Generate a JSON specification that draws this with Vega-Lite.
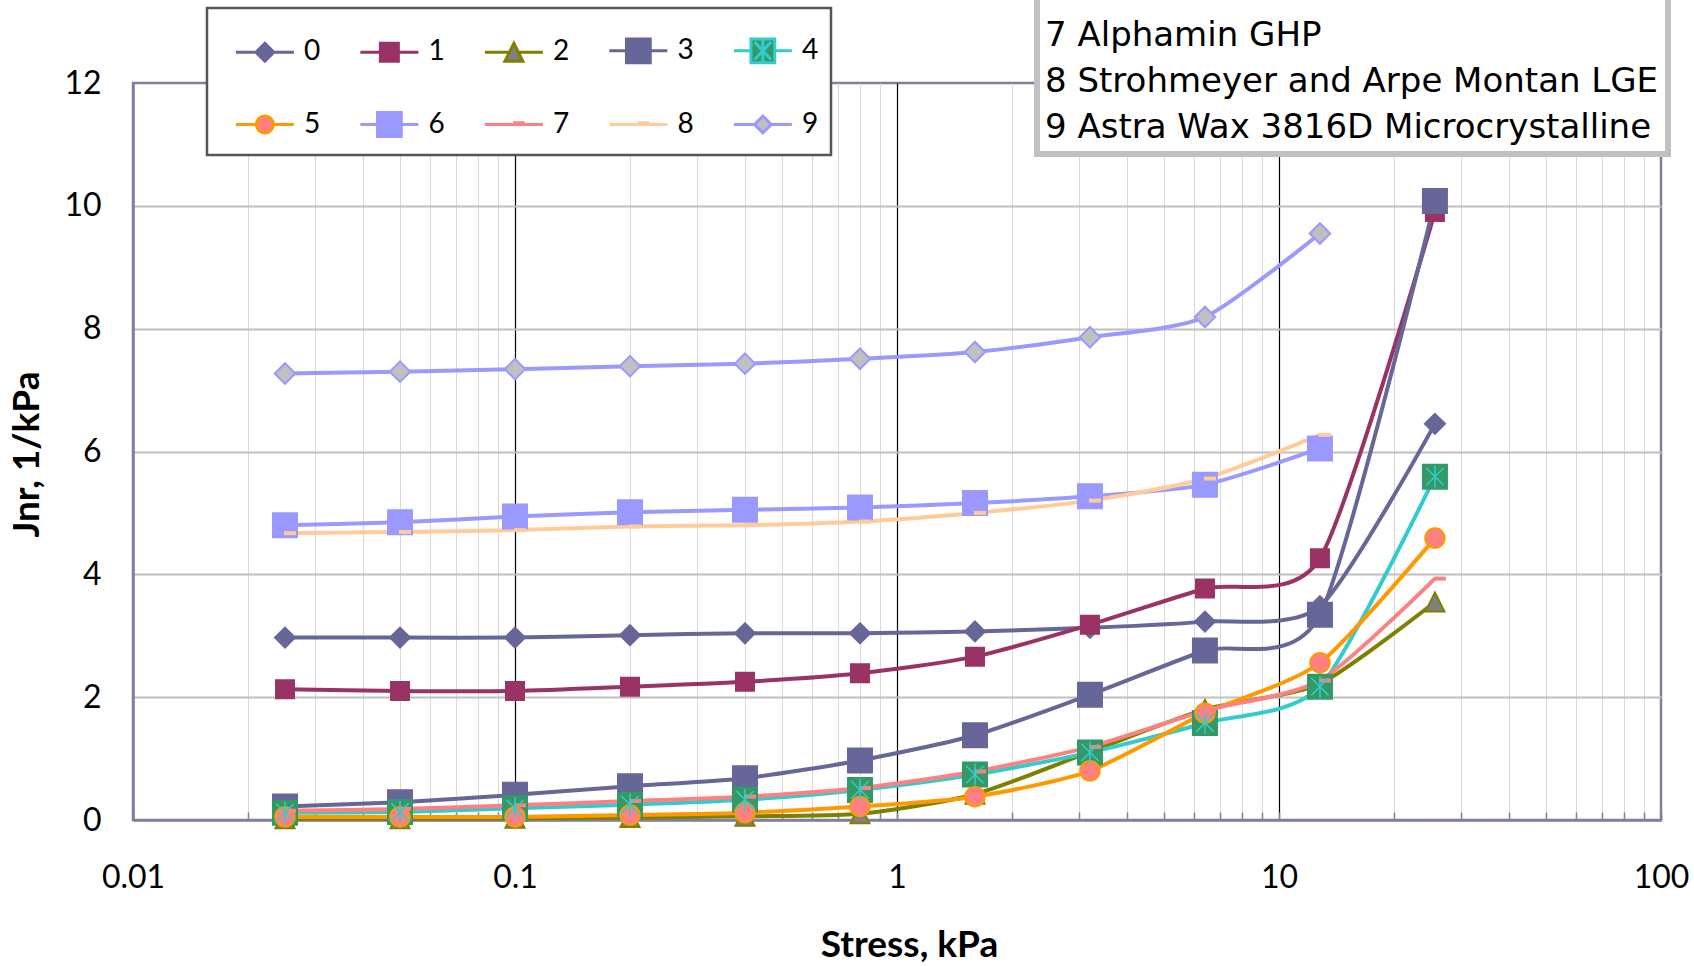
{
  "$schema": "https://vega.github.io/schema/vega-lite/v6.json",
  "width": 1528,
  "height": 737,
  "autosize": {"type": "none"},
  "padding": {"left": 133, "top": 83, "right": 33, "bottom": 146},
  "background": "white",
  "config": {"view": {"stroke": "#7F7F9F", "strokeWidth": 2.5}, "font": "Lato"},
  "datasets": {
    "jnr": [
      {"series": "0", "stress": 0.025, "jnr": 2.97}, {"series": "0", "stress": 0.05, "jnr": 2.97}, {"series": "0", "stress": 0.1, "jnr": 2.97}, {"series": "0", "stress": 0.2, "jnr": 3.01}, {"series": "0", "stress": 0.4, "jnr": 3.04}, {"series": "0", "stress": 0.8, "jnr": 3.04}, {"series": "0", "stress": 1.6, "jnr": 3.07}, {"series": "0", "stress": 3.2, "jnr": 3.13}, {"series": "0", "stress": 6.4, "jnr": 3.23}, {"series": "0", "stress": 12.8, "jnr": 3.48}, {"series": "0", "stress": 25.6, "jnr": 6.45},
      {"series": "1", "stress": 0.025, "jnr": 2.13}, {"series": "1", "stress": 0.05, "jnr": 2.10}, {"series": "1", "stress": 0.1, "jnr": 2.10}, {"series": "1", "stress": 0.2, "jnr": 2.17}, {"series": "1", "stress": 0.4, "jnr": 2.25}, {"series": "1", "stress": 0.8, "jnr": 2.39}, {"series": "1", "stress": 1.6, "jnr": 2.66}, {"series": "1", "stress": 3.2, "jnr": 3.18}, {"series": "1", "stress": 6.4, "jnr": 3.77}, {"series": "1", "stress": 12.8, "jnr": 4.26}, {"series": "1", "stress": 25.6, "jnr": 9.90},
      {"series": "2", "stress": 0.025, "jnr": 0.02}, {"series": "2", "stress": 0.05, "jnr": 0.02}, {"series": "2", "stress": 0.1, "jnr": 0.03}, {"series": "2", "stress": 0.2, "jnr": 0.04}, {"series": "2", "stress": 0.4, "jnr": 0.06}, {"series": "2", "stress": 0.8, "jnr": 0.10}, {"series": "2", "stress": 1.6, "jnr": 0.42}, {"series": "2", "stress": 3.2, "jnr": 1.11}, {"series": "2", "stress": 6.4, "jnr": 1.80}, {"series": "2", "stress": 12.8, "jnr": 2.22}, {"series": "2", "stress": 25.6, "jnr": 3.55},
      {"series": "3", "stress": 0.025, "jnr": 0.22}, {"series": "3", "stress": 0.05, "jnr": 0.29}, {"series": "3", "stress": 0.1, "jnr": 0.41}, {"series": "3", "stress": 0.2, "jnr": 0.55}, {"series": "3", "stress": 0.4, "jnr": 0.68}, {"series": "3", "stress": 0.8, "jnr": 0.97}, {"series": "3", "stress": 1.6, "jnr": 1.38}, {"series": "3", "stress": 3.2, "jnr": 2.04}, {"series": "3", "stress": 6.4, "jnr": 2.76}, {"series": "3", "stress": 12.8, "jnr": 3.34}, {"series": "3", "stress": 25.6, "jnr": 10.08},
      {"series": "4", "stress": 0.025, "jnr": 0.12}, {"series": "4", "stress": 0.05, "jnr": 0.13}, {"series": "4", "stress": 0.1, "jnr": 0.19}, {"series": "4", "stress": 0.2, "jnr": 0.25}, {"series": "4", "stress": 0.4, "jnr": 0.33}, {"series": "4", "stress": 0.8, "jnr": 0.49}, {"series": "4", "stress": 1.6, "jnr": 0.74}, {"series": "4", "stress": 3.2, "jnr": 1.10}, {"series": "4", "stress": 6.4, "jnr": 1.58}, {"series": "4", "stress": 12.8, "jnr": 2.17}, {"series": "4", "stress": 25.6, "jnr": 5.59},
      {"series": "5", "stress": 0.025, "jnr": 0.05}, {"series": "5", "stress": 0.05, "jnr": 0.05}, {"series": "5", "stress": 0.1, "jnr": 0.05}, {"series": "5", "stress": 0.2, "jnr": 0.08}, {"series": "5", "stress": 0.4, "jnr": 0.12}, {"series": "5", "stress": 0.8, "jnr": 0.22}, {"series": "5", "stress": 1.6, "jnr": 0.38}, {"series": "5", "stress": 3.2, "jnr": 0.80}, {"series": "5", "stress": 6.4, "jnr": 1.74}, {"series": "5", "stress": 12.8, "jnr": 2.56}, {"series": "5", "stress": 25.6, "jnr": 4.59},
      {"series": "6", "stress": 0.025, "jnr": 4.80}, {"series": "6", "stress": 0.05, "jnr": 4.85}, {"series": "6", "stress": 0.1, "jnr": 4.94}, {"series": "6", "stress": 0.2, "jnr": 5.01}, {"series": "6", "stress": 0.4, "jnr": 5.05}, {"series": "6", "stress": 0.8, "jnr": 5.09}, {"series": "6", "stress": 1.6, "jnr": 5.16}, {"series": "6", "stress": 3.2, "jnr": 5.27}, {"series": "6", "stress": 6.4, "jnr": 5.46}, {"series": "6", "stress": 12.8, "jnr": 6.05},
      {"series": "7", "stress": 0.025, "jnr": 0.15}, {"series": "7", "stress": 0.05, "jnr": 0.18}, {"series": "7", "stress": 0.1, "jnr": 0.24}, {"series": "7", "stress": 0.2, "jnr": 0.31}, {"series": "7", "stress": 0.4, "jnr": 0.38}, {"series": "7", "stress": 0.8, "jnr": 0.52}, {"series": "7", "stress": 1.6, "jnr": 0.79}, {"series": "7", "stress": 3.2, "jnr": 1.19}, {"series": "7", "stress": 6.4, "jnr": 1.78}, {"series": "7", "stress": 12.8, "jnr": 2.27}, {"series": "7", "stress": 25.6, "jnr": 3.93},
      {"series": "8", "stress": 0.025, "jnr": 4.67}, {"series": "8", "stress": 0.05, "jnr": 4.69}, {"series": "8", "stress": 0.1, "jnr": 4.72}, {"series": "8", "stress": 0.2, "jnr": 4.78}, {"series": "8", "stress": 0.4, "jnr": 4.80}, {"series": "8", "stress": 0.8, "jnr": 4.86}, {"series": "8", "stress": 1.6, "jnr": 5.00}, {"series": "8", "stress": 3.2, "jnr": 5.20}, {"series": "8", "stress": 6.4, "jnr": 5.56}, {"series": "8", "stress": 12.8, "jnr": 6.27},
      {"series": "9", "stress": 0.025, "jnr": 7.27}, {"series": "9", "stress": 0.05, "jnr": 7.30}, {"series": "9", "stress": 0.1, "jnr": 7.34}, {"series": "9", "stress": 0.2, "jnr": 7.39}, {"series": "9", "stress": 0.4, "jnr": 7.43}, {"series": "9", "stress": 0.8, "jnr": 7.51}, {"series": "9", "stress": 1.6, "jnr": 7.62}, {"series": "9", "stress": 3.2, "jnr": 7.86}, {"series": "9", "stress": 6.4, "jnr": 8.19}, {"series": "9", "stress": 12.8, "jnr": 9.55}
    ],
    "notes": [
      {"note": "7 Alphamin GHP"},
      {"note": "8 Strohmeyer and Arpe Montan LGE"},
      {"note": "9 Astra Wax 3816D Microcrystalline"}
    ]
  },
  "data": {"name": "jnr"},
  "layer": [
    {
      "mark": {"type": "line", "interpolate": "cardinal", "tension": 0.3, "strokeWidth": 4, "strokeJoin": "round"},
      "encoding": {
        "x": {"field": "stress", "type": "quantitative", "scale": {"type": "log", "domain": [0.01, 100], "nice": false},
          "axis": {
            "title": "Stress, kPa",
            "values": [0.01,0.02,0.03,0.04,0.05,0.06,0.07,0.08,0.09,0.1,0.2,0.3,0.4,0.5,0.6,0.7,0.8,0.9,1,2,3,4,5,6,7,8,9,10,20,30,40,50,60,70,80,90,100],
            "labelExpr": "datum.value == 0.01 ? '0.01' : datum.value == 0.1 ? '0.1' : datum.value == 1 ? '1' : datum.value == 10 ? '10' : datum.value == 100 ? '100' : ''",
            "labelFont": "Lato", "labelFontSize": 32, "labelColor": "#000000", "labelPadding": 50,
            "labelOverlap": false, "labelFlush": false,
            "ticks": true, "tickSize": -8, "tickColor": "#7F7F9F", "tickWidth": 1.5,
            "domainColor": "#7F7F9F", "domainWidth": 2.5,
            "grid": true,
            "gridColor": {"condition": {"test": "datum.value == 0.1 || datum.value == 1 || datum.value == 10", "value": "#000000"}, "value": "#D9D9D9"},
            "gridWidth": {"condition": {"test": "datum.value == 0.1 || datum.value == 1 || datum.value == 10", "value": 1.2}, "value": 1},
            "gridOpacity": {"condition": {"test": "datum.value == 0.01 || datum.value == 100", "value": 0}, "value": 1},
            "titleFont": "Lato", "titleFontSize": 37, "titleFontWeight": "bold", "titleColor": "#000000",
            "titleX": 776, "titleY": 136, "titleBaseline": "alphabetic", "titleAlign": "center"
          }
        },
        "y": {"field": "jnr", "type": "quantitative", "scale": {"domain": [0, 12], "nice": false},
          "axis": {
            "title": "Jnr, 1/kPa",
            "values": [0, 2, 4, 6, 8, 10, 12],
            "format": "d",
            "labelFont": "Lato", "labelFontSize": 32, "labelColor": "#000000", "labelPadding": 32,
            "ticks": false,
            "domainColor": "#7F7F9F", "domainWidth": 2.5,
            "grid": true, "gridColor": "#BFBFBF", "gridWidth": 2,
            "gridOpacity": {"condition": {"test": "datum.value == 0 || datum.value == 12", "value": 0}, "value": 1},
            "titleFont": "Lato", "titleFontSize": 37, "titleFontWeight": "bold", "titleColor": "#000000",
            "titleAngle": 270, "titleX": -95, "titleY": 371, "titleBaseline": "alphabetic", "titleAlign": "center"
          }
        },
        "color": {"field": "series", "type": "nominal",
          "scale": {"domain": ["0","1","2","3","4","5","6","7","8","9"], "range": ["#666699","#993366","#808000","#666699","#33CCCC","#FF9900","#9999FF","#FF8080","#FFCC99","#9999FF"]},
          "legend": null}
      }
    },
    {
      "mark": {"type": "point", "filled": true, "strokeWidth": 2, "opacity": 1},
      "encoding": {
        "x": {"field": "stress", "type": "quantitative"},
        "y": {"field": "jnr", "type": "quantitative"},
        "shape": {"field": "series", "type": "nominal",
          "scale": {"domain": ["0","1","2","3","4","5","6","7","8","9"],
            "range": ["M0,-1L1,0L0,1L-1,0Z", "M-1,-1H1V1H-1Z", "M0,-1L1,1H-1Z", "M-1,-1H1V1H-1Z", "M-1,-1H1V1H-1Z", "circle", "M-1,-1H1V1H-1Z", "M0,-0.1H1V0.1H0Z", "M0,-0.1H1V0.1H0Z", "M0,-1L1,0L0,1L-1,0Z"]},
          "legend": null},
        "fill": {"field": "series", "type": "nominal",
          "scale": {"domain": ["0","1","2","3","4","5","6","7","8","9"], "range": ["#666699","#993366","#808080","#666699","#339966","#FF8080","#9999FF","#FF8080","#FFCC99","#C0C0C0"]},
          "legend": null},
        "stroke": {"field": "series", "type": "nominal",
          "scale": {"domain": ["0","1","2","3","4","5","6","7","8","9"], "range": ["#666699","#993366","#808000","#666699","#339966","#FF9900","#9999FF","#FF8080","#FFCC99","#9999FF"]},
          "legend": null},
        "size": {"field": "series", "type": "ordinal",
          "scale": {"type": "ordinal", "domain": ["0","1","2","3","4","5","6","7","8","9"], "range": [400, 324, 361, 576, 576, 380, 576, 400, 400, 420]},
          "legend": null}
      }
    },
    {
      "transform": [{"filter": "datum.series == '4'"}],
      "mark": {"type": "point", "shape": "M-0.72,-0.72L0.72,0.72M0.72,-0.72L-0.72,0.72M0,-0.92V0.92", "size": 576, "stroke": "#33CCCC", "strokeWidth": 1.5, "filled": false, "opacity": 1},
      "encoding": {
        "x": {"field": "stress", "type": "quantitative"},
        "y": {"field": "jnr", "type": "quantitative"}
      }
    },
    {
      "mark": {"type": "point", "filled": true, "opacity": 0},
      "encoding": {
        "x": {"field": "stress", "type": "quantitative"},
        "y": {"field": "jnr", "type": "quantitative"},
        "shape": {"field": "series", "type": "nominal",
          "scale": {"domain": ["0","1","2","3","4","5","6","7","8","9"],
            "range": [
              "M-0.47,0H0.22M0.84,0H1.53M0.53,-0.31L0.84,0L0.53,0.31L0.22,0Z",
              "M-0.47,0H0.22M0.84,0H1.53M0.22,-0.31H0.84V0.31H0.22Z",
              "M-0.47,0H0.37M0.69,0H1.53M0.53,-0.31L0.84,0.31H0.22Z",
              "M-0.47,0H0.12M0.94,0H1.53M0.12,-0.41H0.94V0.41H0.12Z",
              "M-0.47,0H0.12M0.94,0H1.53M0.12,-0.41H0.94V0.41H0.12ZM0.25,-0.3L0.81,0.3M0.81,-0.3L0.25,0.3M0.53,-0.41V0.41",
              "M-0.47,0H0.24M0.82,0H1.53M0.823,0A0.293,0.293,0,1,1,0.237,0A0.293,0.293,0,1,1,0.823,0Z",
              "M-0.47,0H0.12M0.94,0H1.53M0.12,-0.41H0.94V0.41H0.12Z",
              "M-0.47,0H1.53M0.5,-0.06H0.9",
              "M-0.47,0H1.53M0.5,-0.06H0.9",
              "M-0.47,0H0.24M0.82,0H1.53M0.53,-0.29L0.82,0L0.53,0.29L0.24,0Z"
            ]},
          "legend": {"title": null, "orient": "none", "legendX": 74, "legendY": -75, "columns": 5, "direction": "horizontal", "symbolSize": 3364, "symbolStrokeWidth": 3, "symbolOpacity": 1, "labelFont": "Lato", "labelFontSize": 28, "labelColor": "#000000", "labelOffset": 24, "columnPadding": 22.5, "rowPadding": 25, "padding": 12, "strokeColor": "#555555", "fillColor": "#FFFFFF", "labelLimit": 200, "encoding": {"legend": {"strokeWidth": {"value": 2.5}}}}},
        "fill": {"field": "series", "type": "nominal",
          "scale": {"domain": ["0","1","2","3","4","5","6","7","8","9"], "range": ["#666699","#993366","#808080","#666699","#339966","#FF8080","#9999FF","#FF8080","#FFCC99","#C0C0C0"]},
          "legend": {"title": null, "orient": "none", "legendX": 74, "legendY": -75, "columns": 5, "direction": "horizontal", "symbolSize": 3364, "symbolStrokeWidth": 3, "symbolOpacity": 1, "labelFont": "Lato", "labelFontSize": 28, "labelColor": "#000000", "labelOffset": 24, "columnPadding": 22.5, "rowPadding": 25, "padding": 12, "strokeColor": "#555555", "fillColor": "#FFFFFF", "labelLimit": 200, "encoding": {"legend": {"strokeWidth": {"value": 2.5}}}}},
        "stroke": {"field": "series", "type": "nominal",
          "scale": {"domain": ["0","1","2","3","4","5","6","7","8","9"], "range": ["#666699","#993366","#808000","#666699","#33CCCC","#FF9900","#9999FF","#FF8080","#FFCC99","#9999FF"]},
          "legend": {"title": null, "orient": "none", "legendX": 74, "legendY": -75, "columns": 5, "direction": "horizontal", "symbolSize": 3364, "symbolStrokeWidth": 3, "symbolOpacity": 1, "labelFont": "Lato", "labelFontSize": 28, "labelColor": "#000000", "labelOffset": 24, "columnPadding": 22.5, "rowPadding": 25, "padding": 12, "strokeColor": "#555555", "fillColor": "#FFFFFF", "labelLimit": 200, "encoding": {"legend": {"strokeWidth": {"value": 2.5}}}}}
      }
    },
    {
      "data": {"name": "notes"},
      "mark": {"type": "point", "opacity": 0},
      "encoding": {
        "strokeDash": {"field": "note", "type": "nominal",
          "legend": {"title": " ", "titleFont": "DejaVu Sans", "titleFontSize": 34, "titlePadding": 14, "orient": "none", "direction": "vertical", "legendX": 904, "legendY": -121, "symbolSize": 0, "symbolStrokeWidth": 0, "symbolOpacity": 0, "labelFont": "DejaVu Sans", "labelFontSize": 34, "labelColor": "#000000", "labelLimit": 2000, "labelOffset": -35, "rowPadding": 12, "padding": 9, "strokeColor": "#C0C0C0", "fillColor": "#FFFFFF", "encoding": {"legend": {"strokeWidth": {"value": 6}}}}}
      }
    }
  ],
  "resolve": {"scale": {"shape": "independent", "fill": "independent", "stroke": "independent", "size": "independent"}}
}
